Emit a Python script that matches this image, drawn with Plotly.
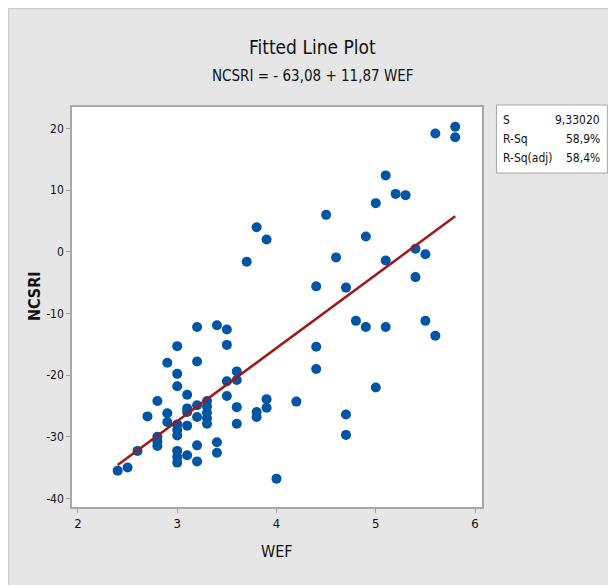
import plotly.graph_objects as go

# ---- data ----
wef = [2.4, 2.5, 2.6, 2.7,
       2.8, 2.8, 2.8, 2.8,
       2.9, 2.9, 2.9,
       3.0, 3.0, 3.0, 3.0, 3.0, 3.0, 3.0, 3.0, 3.0,
       3.1, 3.1, 3.1, 3.1, 3.1,
       3.2, 3.2, 3.2, 3.2, 3.2, 3.2,
       3.3, 3.3, 3.3, 3.3, 3.3,
       3.4, 3.4, 3.4,
       3.5, 3.5, 3.5, 3.5,
       3.6, 3.6, 3.6, 3.6,
       3.7,
       3.8, 3.8, 3.8,
       3.9, 3.9, 3.9,
       4.0, 4.2,
       4.4, 4.4, 4.4,
       4.5, 4.6,
       4.7, 4.7, 4.7,
       4.8,
       4.9, 4.9,
       5.0, 5.0,
       5.1, 5.1, 5.1,
       5.2, 5.3,
       5.4, 5.4,
       5.5, 5.5,
       5.6, 5.6,
       5.8, 5.8]
ncsri = [-35.5, -35.0, -32.3, -26.7,
         -24.2, -30.0, -30.8, -31.5,
         -18.0, -26.2, -27.6,
         -15.3, -19.8, -21.8, -28.0, -28.9, -29.8, -32.3, -33.3, -34.2,
         -23.2, -25.4, -26.0, -28.2, -33.0,
         -12.2, -17.8, -24.9, -26.8, -31.4, -34.0,
         -24.2, -25.1, -26.1, -27.0, -27.9,
         -11.9, -30.9, -32.6,
         -12.6, -15.1, -21.0, -23.4,
         -19.4, -20.8, -25.2, -27.9,
         -1.6,
         4.0, -26.0, -26.8,
         2.0, -23.9, -25.3,
         -36.8, -24.3,
         -5.6, -15.4, -19.0,
         6.0, -0.9,
         -5.8, -26.4, -29.7,
         -11.2,
         2.5, -12.2,
         7.9, -22.0,
         12.4, -1.4, -12.2,
         9.4, 9.2,
         0.5, -4.1,
         -0.4, -11.2,
         19.2, -13.6,
         20.3, 18.6]

intercept = -63.08
slope = 11.87
stat_labels = ["S", "R-Sq", "R-Sq(adj)"]
stat_values = ["9,33020", "58,9%", "58,4%"]
x_ticks = [2, 3, 4, 5, 6]
y_ticks = [20, 10, 0, -10, -20, -30, -40]

# fitted line evaluated at the observed predictor values
fit_x = sorted(set(wef))
fit_y = [intercept + slope * v for v in fit_x]

# ---- layout geometry (page has an 8px body margin) ----
OFF = 8
W, H = 616 - OFF, 585 - OFF
L = 72 - OFF
T = 107 - OFF
R = W - (482.5 - OFF)
B = H - (507 - OFF)
pw = W - L - R
ph = H - T - B

def px(x):   # window pixel -> paper x
    return (x - OFF - L) / pw

def py(y):   # window pixel -> paper y
    return (H - B - (y - OFF)) / ph

FONT = "DejaVu Sans Condensed, sans-serif"
BLUE = "#0055a5"
RED = "#9e1a1a"
TXT = "#111111"

fig = go.Figure()
fig.add_trace(go.Scatter(x=wef, y=ncsri, mode="markers",
                         marker=dict(color=BLUE, size=10, line=dict(width=0)),
                         hoverinfo="x+y", showlegend=False))
fig.add_trace(go.Scatter(x=fit_x, y=fit_y, mode="lines",
                         line=dict(color=RED, width=2.5),
                         showlegend=False))

shapes = [
    # gray panel border
    dict(type="rect", xref="paper", yref="paper", layer="below",
         x0=px(8.5), x1=px(640), y0=py(600), y1=py(8.5),
         fillcolor="#e6e6e6", line=dict(color="#cdcdcd", width=1.5)),
    # white plot area
    dict(type="rect", xref="paper", yref="paper", layer="below",
         x0=0, x1=1, y0=0, y1=1, fillcolor="white", line=dict(width=0)),
    # stats box
    dict(type="rect", xref="paper", yref="paper", layer="below",
         x0=px(497), x1=px(608), y0=py(173), y1=py(105),
         fillcolor="white", line=dict(color="#a8a8a8", width=1)),
]

annotations = [
    dict(text="Fitted Line Plot", x=px(313), y=py(47),
         xref="paper", yref="paper", showarrow=False, xanchor="center", yanchor="middle",
         font=dict(family=FONT, size=19, color=TXT)),
    dict(text="NCSRI = - 63,08 + 11,87 WEF", x=px(313), y=py(76),
         xref="paper", yref="paper", showarrow=False, xanchor="center", yanchor="middle",
         font=dict(family=FONT, size=15, color=TXT)),
    dict(text="WEF", x=px(277), y=py(551),
         xref="paper", yref="paper", showarrow=False, xanchor="center", yanchor="middle",
         font=dict(family=FONT, size=16, color=TXT)),
    dict(text="<b>NCSRI</b>", x=px(34), y=py(296),
         xref="paper", yref="paper", showarrow=False, xanchor="center", yanchor="middle",
         textangle=-90, font=dict(family=FONT, size=16, color=TXT)),
]
row_y = [120, 139, 158]
for lab, val, yy in zip(stat_labels, stat_values, row_y):
    annotations.append(dict(text=lab, x=px(502), y=py(yy),
                            xref="paper", yref="paper", showarrow=False,
                            xanchor="left", yanchor="middle",
                            font=dict(family=FONT, size=12, color=TXT)))
    annotations.append(dict(text=val, x=px(603), y=py(yy),
                            xref="paper", yref="paper", showarrow=False,
                            xanchor="right", yanchor="middle",
                            font=dict(family=FONT, size=12, color=TXT)))

fig.update_layout(
    width=W, height=H,
    margin=dict(l=L, r=R, t=T, b=B, pad=0),
    paper_bgcolor="white", plot_bgcolor="rgba(0,0,0,0)",
    shapes=shapes, annotations=annotations,
    xaxis=dict(range=[1.94, 6.07], tickvals=x_ticks, ticktext=[str(v) for v in x_ticks],
               showgrid=False, zeroline=False, showline=True, mirror=True,
               linecolor="#a8a8a8", linewidth=1.5, ticks="outside", ticklen=4,
               tickcolor="#a0a0a0", tickfont=dict(family=FONT, size=13, color=TXT)),
    yaxis=dict(range=[-41.4, 23.5], tickvals=y_ticks, ticktext=[str(v) for v in y_ticks],
               showgrid=False, zeroline=False, showline=True, mirror=True,
               linecolor="#a8a8a8", linewidth=1.5, ticks="outside", ticklen=4,
               tickcolor="#a0a0a0", tickfont=dict(family=FONT, size=12, color=TXT)),
    showlegend=False,
)

fig.write_html("out.html")
